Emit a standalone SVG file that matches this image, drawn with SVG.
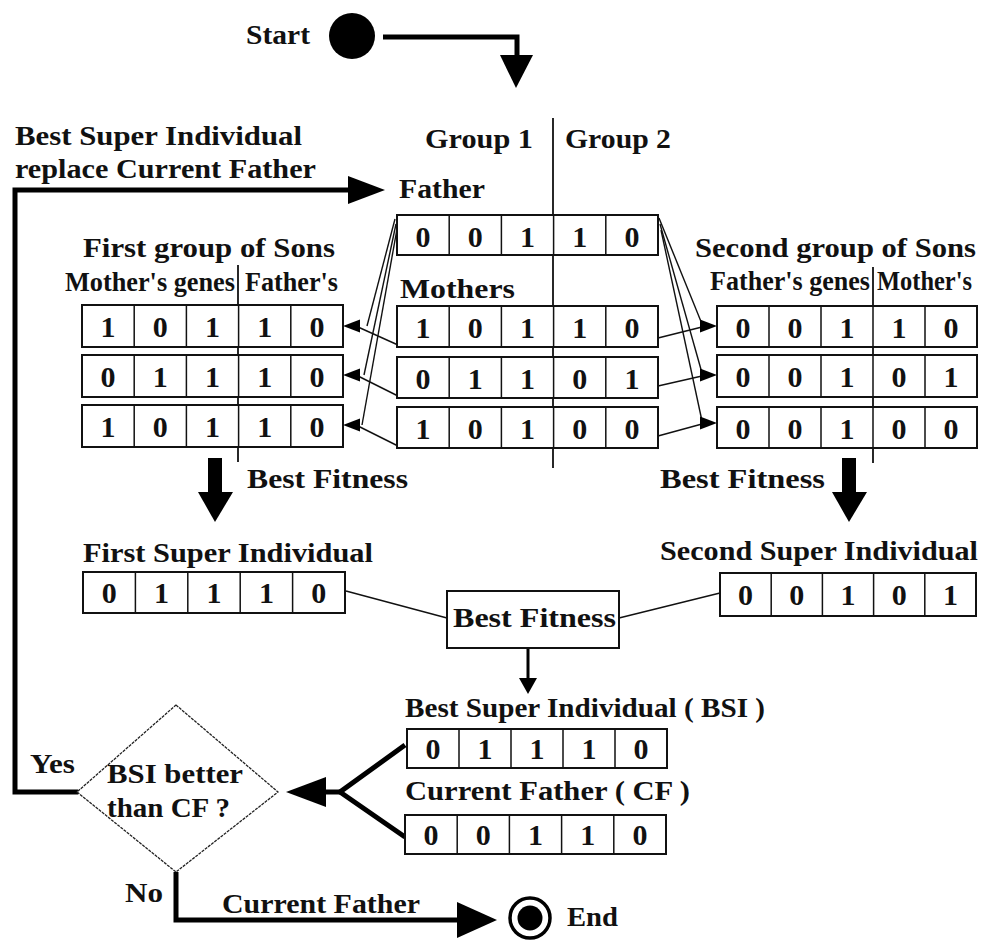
<svg xmlns="http://www.w3.org/2000/svg" xmlns:xlink="http://www.w3.org/1999/xlink" width="984" height="940" viewBox="0 0 984 940">
<style>
.t{font-family:"Liberation Serif","Times New Roman",serif;font-weight:bold;font-size:28px;fill:#111}
.d{font-family:"Liberation Serif","Times New Roman",serif;font-weight:bold;font-size:30px;fill:#111;text-anchor:middle}
.box{fill:#fff;stroke:#111;stroke-width:2}
.cell{stroke:#111;stroke-width:1.5}
.thin{fill:none;stroke:#111;stroke-width:1.4}
.thick{fill:none;stroke:#000;stroke-width:5}
.med{fill:none;stroke:#000;stroke-width:3}
.div{stroke:#111;stroke-width:1.8}
.fill{fill:#000}
</style>
<defs>
<path id="ahL" d="M0,0 L17,-6.5 L17,6.5 Z"/>
<path id="ahR" d="M0,0 L-17,-6.5 L-17,6.5 Z"/>
</defs>
<rect width="984" height="940" fill="#fff"/>

<g id="dividers">
<line class="div" x1="553" y1="118" x2="553" y2="468"/>
<line class="div" x1="238" y1="265" x2="238" y2="462"/>
<line class="div" x1="873" y1="267" x2="873" y2="463"/>
</g>

<g id="connectors">
<polyline class="thick" points="383,37 517,37 517,58"/>
<polygon class="fill" points="500,55 533,55 516,88"/>
<polyline class="thick" points="78,792 15,792 15,190 352,190"/>
<polygon class="fill" points="348,176 385,190 348,204"/>
<line class="thin" x1="395" y1="219" x2="367" y2="326"/>
<line class="thin" x1="396" y1="224" x2="364" y2="375"/>
<line class="thin" x1="397" y1="229" x2="362" y2="425"/>
<line class="thin" x1="398" y1="345" x2="358" y2="327"/>
<line class="thin" x1="398" y1="396" x2="358" y2="376"/>
<line class="thin" x1="398" y1="446" x2="358" y2="426"/>
<use xlink:href="#ahL" href="#ahL" x="343" y="326"/>
<use xlink:href="#ahL" href="#ahL" x="343" y="375"/>
<use xlink:href="#ahL" href="#ahL" x="343" y="425"/>
<line class="thin" x1="659" y1="218" x2="702" y2="324"/>
<line class="thin" x1="660" y1="224" x2="702" y2="373"/>
<line class="thin" x1="661" y1="230" x2="702" y2="421"/>
<line class="thin" x1="658" y1="338" x2="702" y2="327"/>
<line class="thin" x1="658" y1="386" x2="702" y2="376"/>
<line class="thin" x1="658" y1="436" x2="702" y2="424"/>
<use xlink:href="#ahR" href="#ahR" x="717" y="326"/>
<use xlink:href="#ahR" href="#ahR" x="717" y="375"/>
<use xlink:href="#ahR" href="#ahR" x="717" y="423"/>
<rect class="fill" x="208" y="458" width="14" height="36"/>
<polygon class="fill" points="198,492 233,492 215,522"/>
<rect class="fill" x="842" y="458" width="14" height="36"/>
<polygon class="fill" points="832,492 867,492 849,522"/>
<line class="thin" x1="346" y1="591" x2="447" y2="618"/>
<line class="thin" x1="619" y1="618" x2="720" y2="593"/>
<line class="med" x1="528" y1="648" x2="528" y2="680"/>
<polygon class="fill" points="519,678 537,678 528,694"/>
<polyline class="thick" points="405,745 340,792 405,837"/>
<line class="thick" x1="340" y1="792" x2="320" y2="792"/>
<polygon class="fill" points="286,792 326,777 326,807"/>
<polyline class="thick" points="176,872 176,920 462,920"/>
<polygon class="fill" points="457,902 497,920 457,938"/>
</g>

<g id="start">
<circle cx="352" cy="36" r="23" fill="#000"/>
<text class="t" x="246" y="44" textLength="64" lengthAdjust="spacingAndGlyphs">Start</text>
</g>

<g id="loop-label">
<text class="t" x="15" y="145" textLength="287" lengthAdjust="spacingAndGlyphs">Best Super Individual</text>
<text class="t" x="15" y="178" textLength="301" lengthAdjust="spacingAndGlyphs">replace Current Father</text>
</g>

<g id="groups">
<text class="t" x="425" y="148" textLength="108" lengthAdjust="spacingAndGlyphs">Group 1</text>
<text class="t" x="565" y="148" textLength="106" lengthAdjust="spacingAndGlyphs">Group 2</text>
</g>

<g id="father">
<text class="t" x="399" y="198" textLength="86" lengthAdjust="spacingAndGlyphs">Father</text>
<rect class="box" x="397" y="215" width="261" height="40"/>
<path class="cell" d="M449.2,215V255M501.4,215V255M553.6,215V255M605.8,215V255"/>
<text class="d" y="247"><tspan x="423.1">0</tspan><tspan x="475.3">0</tspan><tspan x="527.5">1</tspan><tspan x="579.7">1</tspan><tspan x="631.9">0</tspan></text>
</g>

<g id="mothers">
<text class="t" x="400" y="298" textLength="115" lengthAdjust="spacingAndGlyphs">Mothers</text>
<rect class="box" x="397" y="306" width="261" height="41"/>
<path class="cell" d="M449.2,306V347M501.4,306V347M553.6,306V347M605.8,306V347"/>
<text class="d" y="338"><tspan x="423.1">1</tspan><tspan x="475.3">0</tspan><tspan x="527.5">1</tspan><tspan x="579.7">1</tspan><tspan x="631.9">0</tspan></text>
<rect class="box" x="397" y="357" width="261" height="41"/>
<path class="cell" d="M449.2,357V398M501.4,357V398M553.6,357V398M605.8,357V398"/>
<text class="d" y="389"><tspan x="423.1">0</tspan><tspan x="475.3">1</tspan><tspan x="527.5">1</tspan><tspan x="579.7">0</tspan><tspan x="631.9">1</tspan></text>
<rect class="box" x="397" y="407" width="261" height="41"/>
<path class="cell" d="M449.2,407V448M501.4,407V448M553.6,407V448M605.8,407V448"/>
<text class="d" y="439"><tspan x="423.1">1</tspan><tspan x="475.3">0</tspan><tspan x="527.5">1</tspan><tspan x="579.7">0</tspan><tspan x="631.9">0</tspan></text>
</g>

<g id="first-sons">
<text class="t" x="83" y="257" textLength="252" lengthAdjust="spacingAndGlyphs">First group of Sons</text>
<text class="t" x="65" y="291" font-size="24" textLength="170" lengthAdjust="spacingAndGlyphs">Mother's genes</text>
<text class="t" x="245" y="291" font-size="24" textLength="93" lengthAdjust="spacingAndGlyphs">Father's</text>
<rect class="box" x="82" y="305" width="261" height="42"/>
<path class="cell" d="M134.2,305V347M186.4,305V347M238.6,305V347M290.8,305V347"/>
<text class="d" y="337"><tspan x="108.1">1</tspan><tspan x="160.3">0</tspan><tspan x="212.5">1</tspan><tspan x="264.7">1</tspan><tspan x="316.9">0</tspan></text>
<rect class="box" x="82" y="355" width="261" height="42"/>
<path class="cell" d="M134.2,355V397M186.4,355V397M238.6,355V397M290.8,355V397"/>
<text class="d" y="387"><tspan x="108.1">0</tspan><tspan x="160.3">1</tspan><tspan x="212.5">1</tspan><tspan x="264.7">1</tspan><tspan x="316.9">0</tspan></text>
<rect class="box" x="82" y="405" width="261" height="42"/>
<path class="cell" d="M134.2,405V447M186.4,405V447M238.6,405V447M290.8,405V447"/>
<text class="d" y="437"><tspan x="108.1">1</tspan><tspan x="160.3">0</tspan><tspan x="212.5">1</tspan><tspan x="264.7">1</tspan><tspan x="316.9">0</tspan></text>
<text class="t" x="247" y="488" textLength="161" lengthAdjust="spacingAndGlyphs">Best Fitness</text>
</g>

<g id="second-sons">
<text class="t" x="695" y="257" textLength="281" lengthAdjust="spacingAndGlyphs">Second group of Sons</text>
<text class="t" x="710" y="290" font-size="24" textLength="160" lengthAdjust="spacingAndGlyphs">Father's genes</text>
<text class="t" x="877" y="290" font-size="24" textLength="95" lengthAdjust="spacingAndGlyphs">Mother's</text>
<rect class="box" x="717" y="306" width="260" height="41"/>
<path class="cell" d="M769,306V347M821,306V347M873,306V347M925,306V347"/>
<text class="d" y="338"><tspan x="743">0</tspan><tspan x="795">0</tspan><tspan x="847">1</tspan><tspan x="899">1</tspan><tspan x="951">0</tspan></text>
<rect class="box" x="717" y="355" width="260" height="42"/>
<path class="cell" d="M769,355V397M821,355V397M873,355V397M925,355V397"/>
<text class="d" y="387"><tspan x="743">0</tspan><tspan x="795">0</tspan><tspan x="847">1</tspan><tspan x="899">0</tspan><tspan x="951">1</tspan></text>
<rect class="box" x="717" y="407" width="260" height="41"/>
<path class="cell" d="M769,407V448M821,407V448M873,407V448M925,407V448"/>
<text class="d" y="439"><tspan x="743">0</tspan><tspan x="795">0</tspan><tspan x="847">1</tspan><tspan x="899">0</tspan><tspan x="951">0</tspan></text>
<text class="t" x="660" y="488" textLength="165" lengthAdjust="spacingAndGlyphs">Best Fitness</text>
</g>

<g id="first-super">
<text class="t" x="83" y="562" textLength="290" lengthAdjust="spacingAndGlyphs">First Super Individual</text>
<rect class="box" x="83" y="572" width="262" height="41"/>
<path class="cell" d="M135.4,572V613M187.8,572V613M240.2,572V613M292.6,572V613"/>
<text class="d" y="603"><tspan x="109.2">0</tspan><tspan x="161.6">1</tspan><tspan x="214">1</tspan><tspan x="266.4">1</tspan><tspan x="318.8">0</tspan></text>
</g>

<g id="second-super">
<text class="t" x="660" y="560" textLength="318" lengthAdjust="spacingAndGlyphs">Second Super Individual</text>
<rect class="box" x="720" y="573" width="256" height="43"/>
<path class="cell" d="M771.2,573V616M822.4,573V616M873.6,573V616M924.8,573V616"/>
<text class="d" y="605"><tspan x="745.6">0</tspan><tspan x="796.8">0</tspan><tspan x="848">1</tspan><tspan x="899.2">0</tspan><tspan x="950.4">1</tspan></text>
</g>

<g id="best-fitness">
<rect class="box" x="447" y="591" width="172" height="57" stroke-width="1.8"/>
<text class="t" x="453" y="627" textLength="163" lengthAdjust="spacingAndGlyphs">Best Fitness</text>
</g>

<g id="bsi">
<text class="t" x="405" y="717" textLength="360" lengthAdjust="spacingAndGlyphs">Best Super Individual ( BSI )</text>
<rect class="box" x="407" y="729" width="260" height="39"/>
<path class="cell" d="M459,729V768M511,729V768M563,729V768M615,729V768"/>
<text class="d" y="759"><tspan x="433">0</tspan><tspan x="485">1</tspan><tspan x="537">1</tspan><tspan x="589">1</tspan><tspan x="641">0</tspan></text>
</g>

<g id="cf">
<text class="t" x="405" y="800" textLength="285" lengthAdjust="spacingAndGlyphs">Current Father ( CF )</text>
<rect class="box" x="405" y="815" width="261" height="39"/>
<path class="cell" d="M457.2,815V854M509.4,815V854M561.6,815V854M613.8,815V854"/>
<text class="d" y="845"><tspan x="431.1">0</tspan><tspan x="483.3">0</tspan><tspan x="535.5">1</tspan><tspan x="587.7">1</tspan><tspan x="639.9">0</tspan></text>
</g>

<g id="decision">
<polygon points="176,705 278,792 176,872 77,792" fill="#fff" stroke="#222" stroke-width="1.3" stroke-dasharray="3,1"/>
<text class="t" x="107" y="783" textLength="136" lengthAdjust="spacingAndGlyphs">BSI better</text>
<text class="t" x="107" y="817" textLength="123" lengthAdjust="spacingAndGlyphs">than CF ?</text>
<text class="t" x="30" y="773" textLength="45" lengthAdjust="spacingAndGlyphs">Yes</text>
<text class="t" x="125" y="902" textLength="38" lengthAdjust="spacingAndGlyphs">No</text>
<text class="t" x="222" y="913" textLength="198" lengthAdjust="spacingAndGlyphs">Current Father</text>
</g>

<g id="end">
<circle cx="530" cy="918" r="20" fill="#fff" stroke="#000" stroke-width="3.5"/>
<circle cx="530" cy="918" r="12.5" fill="#000"/>
<text class="t" x="567" y="926" textLength="51" lengthAdjust="spacingAndGlyphs">End</text>
</g>
</svg>
